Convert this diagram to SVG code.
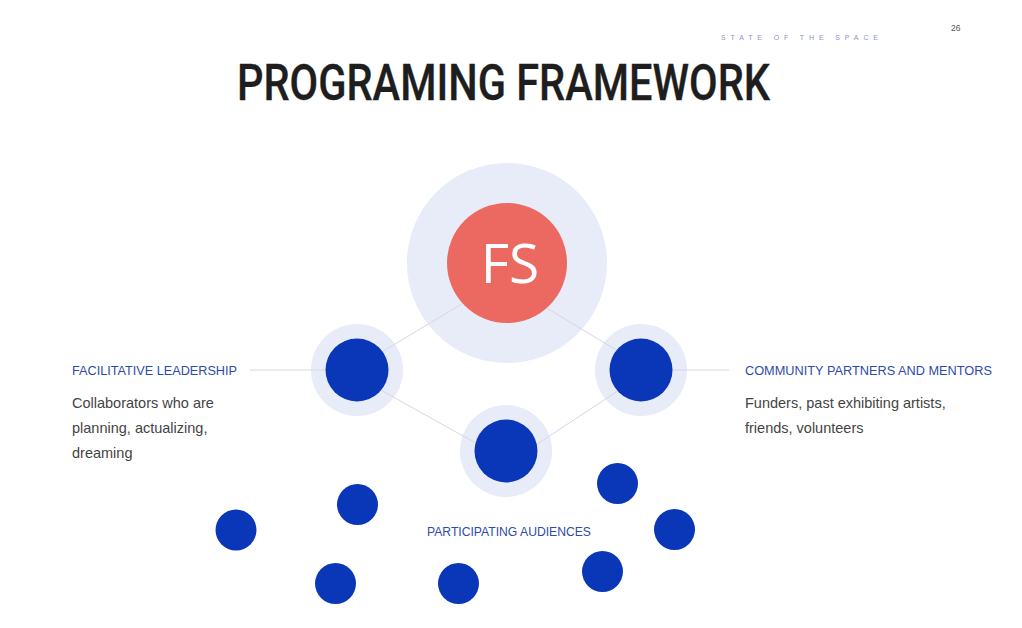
<svg xmlns="http://www.w3.org/2000/svg" width="1022" height="628" viewBox="0 0 1022 628">
<style>
.halo{fill:#e8ebf8}
.dot{fill:#0a36b8}
.conn{stroke:#d6d8e2;stroke-width:1;fill:none}
.lbl{font-family:"Liberation Sans",Arial,sans-serif;font-size:12.5px;fill:#2d4aa9}
.body{font-family:"Liberation Sans",Arial,sans-serif;font-size:14.5px;fill:#444}
</style>
<rect width="1022" height="628" fill="#ffffff"/>
<text x="721" y="40" font-family="Liberation Sans, Arial, sans-serif" font-size="7" fill="#8c92cc" textLength="157" lengthAdjust="spacing">STATE OF THE SPACE</text>
<text x="951" y="31" font-family="Liberation Sans, Arial, sans-serif" font-size="8.5" fill="#555">26</text>
<text x="237" y="100" font-family="Roboto, 'Liberation Sans', sans-serif" font-weight="500" font-size="50" fill="#1e1e1e" stroke="#1e1e1e" stroke-width="0.3" textLength="533" lengthAdjust="spacingAndGlyphs">PROGRAMING FRAMEWORK</text>

<g id="halos">
<circle class="halo" cx="507" cy="263" r="100"/>
<circle class="halo" cx="357" cy="370" r="46"/>
<circle class="halo" cx="641" cy="370" r="46"/>
<circle class="halo" cx="506" cy="451" r="46"/>
</g>

<g id="connectors">
<line class="conn" x1="360" y1="365" x2="470" y2="299"/>
<line class="conn" x1="545" y1="307" x2="641" y2="365"/>
<line class="conn" x1="370" y1="384" x2="490" y2="451"/>
<line class="conn" x1="525" y1="452" x2="630" y2="383"/>
<line class="conn" x1="250" y1="370" x2="330" y2="370"/>
<line class="conn" x1="670" y1="370" x2="729" y2="370"/>
</g>

<g id="fs">
<circle cx="507" cy="263" r="60" fill="#ec6961"/>
<text x="510" y="283" text-anchor="middle" font-family="'Open Sans', 'Liberation Sans', sans-serif" font-weight="500" font-size="55" fill="#ffffff">FS</text>
</g>

<g id="facilitative-leadership">
<circle class="dot" cx="357" cy="370" r="31.5"/>
<text class="lbl" x="72" y="375" textLength="165" lengthAdjust="spacingAndGlyphs">FACILITATIVE LEADERSHIP</text>
<text class="body" x="72" y="408">Collaborators who are</text>
<text class="body" x="72" y="433">planning, actualizing,</text>
<text class="body" x="72" y="458">dreaming</text>
</g>

<g id="community-partners">
<circle class="dot" cx="641" cy="370" r="31.5"/>
<text class="lbl" x="745" y="375" textLength="247" lengthAdjust="spacingAndGlyphs">COMMUNITY PARTNERS AND MENTORS</text>
<text class="body" x="745" y="408">Funders, past exhibiting artists,</text>
<text class="body" x="745" y="433">friends, volunteers</text>
</g>

<g id="participating-audiences">
<circle class="dot" cx="506" cy="451" r="31.5"/>
<text class="lbl" x="427" y="536" textLength="164" lengthAdjust="spacingAndGlyphs">PARTICIPATING AUDIENCES</text>
<circle class="dot" cx="236" cy="530" r="20.5"/>
<circle class="dot" cx="357.5" cy="504.5" r="20.5"/>
<circle class="dot" cx="335.5" cy="583.5" r="20.5"/>
<circle class="dot" cx="458.5" cy="583.5" r="20.5"/>
<circle class="dot" cx="617.5" cy="483.5" r="20.5"/>
<circle class="dot" cx="674.5" cy="529.5" r="20.5"/>
<circle class="dot" cx="602.5" cy="571.5" r="20.5"/>
</g>
</svg>
